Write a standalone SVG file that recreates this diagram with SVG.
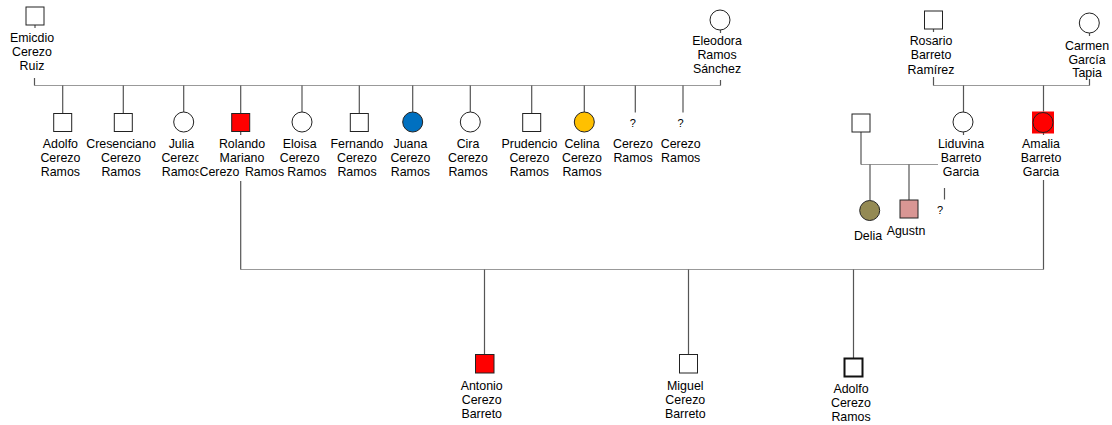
<svg xmlns="http://www.w3.org/2000/svg" width="1112" height="425" viewBox="0 0 1112 425">
<style>
text{font-family:"Liberation Sans",Arial,sans-serif;font-size:12.4px;fill:#000;text-anchor:middle}
.q{font-size:11px}
.h{stroke:#999;stroke-width:1;fill:none}
.d{stroke:#555;stroke-width:1.2;fill:none}
.m{fill:#fff;stroke:#222;stroke-width:1}
.f{fill:#fff;stroke:#222;stroke-width:1}
</style>
<rect width="1112" height="425" fill="#fff"/>
<g id="connectors">
<path class="h" d="M34.5 85.5H720.5M933.5 85.5H1089.5M861 164.5H938M240.5 269.5H1043.5"/>
<path class="d" d="M35 25V28M34.5 78V85.5M720.5 30V33M720.5 80V85.5M933.5 29V32M933.5 77V85.5M1089.5 33V36M1089.5 79V85.5"/>
<path class="d" d="M62.7 85.5V113.5M123.3 85.5V113.5M183.7 85.5V112M240.7 85.5V113.5M302 85.5V112M359.3 85.5V113.5M412.7 85.5V112M470.3 85.5V112M531.7 85.5V113.5M584.3 85.5V112M635.3 85.5V112.5M683 85.5V112.5"/>
<path class="d" d="M240.7 131.5V135M240.7 181V269.5M963.5 85.5V112M963.5 132V135M1043.5 85.5V111.5M1043.5 133V135M1043.5 180V269.5"/>
<path class="d" d="M861 132V164.5M870 164.5V200M909 164.5V200M944.5 188V199.5"/>
<path class="d" d="M484.5 269.5V354.5M688.5 269.5V354.5M853.5 269.5V358"/>
</g>
<g id="emicdio"><rect class="m" x="26" y="7" width="18" height="18"/><text x="32" y="41.5">Emicdio</text><text x="32" y="55.5">Cerezo</text><text x="32" y="69.5">Ruiz</text></g>
<g id="eleodora"><circle class="f" cx="720" cy="20" r="10"/><text x="717" y="45">Eleodora</text><text x="717" y="59">Ramos</text><text x="717" y="73">Sánchez</text></g>
<g id="rosario"><rect class="m" x="924.5" y="11" width="18" height="18"/><text x="931" y="45">Rosario</text><text x="931" y="59">Barreto</text><text x="931" y="73.5">Ramírez</text></g>
<g id="carmen"><circle class="f" cx="1089.3" cy="23" r="10"/><text x="1087" y="49.5">Carmen</text><text x="1087" y="63.5">García</text><text x="1087" y="77">Tapia</text></g>
<g id="adolfo1"><rect class="m" x="53.7" y="113.5" width="18" height="18"/><text x="60.4" y="148">Adolfo</text><text x="60.4" y="162">Cerezo</text><text x="60.4" y="176">Ramos</text></g>
<g id="cresenciano"><rect class="m" x="114.3" y="113.5" width="18" height="18"/><text x="121" y="148">Cresenciano</text><text x="121" y="162">Cerezo</text><text x="121" y="176">Ramos</text></g>
<g id="julia"><circle class="f" cx="183.7" cy="122" r="10"/><text x="181.4" y="148">Julia</text><text x="181.4" y="162">Cerezo</text><text x="181.4" y="176">Ramos</text></g>
<g id="eloisa"><circle class="f" cx="302" cy="122" r="10"/><text x="299.7" y="148">Eloisa</text><text x="299.7" y="162">Cerezo</text><text x="287.3" y="176" style="text-anchor:start">Ramos</text></g>
<g id="rolando"><rect class="m" x="231.7" y="113.5" width="18" height="18" style="fill:#f00"/><rect x="198.5" y="136" width="80.5" height="30" fill="#fff"/><rect x="198.5" y="166" width="87.5" height="14" fill="#fff"/><text x="242" y="148">Rolando</text><text x="242" y="162">Mariano</text><text x="199.5" y="176" style="text-anchor:start;word-spacing:2px">Cerezo Ramos</text></g>
<g id="fernando"><rect class="m" x="350.3" y="113.5" width="18" height="18"/><text x="357" y="148">Fernando</text><text x="357" y="162">Cerezo</text><text x="357" y="176">Ramos</text></g>
<g id="juana"><circle class="f" cx="412.7" cy="122" r="10" style="fill:#0070c0"/><text x="410.4" y="148">Juana</text><text x="410.4" y="162">Cerezo</text><text x="410.4" y="176">Ramos</text></g>
<g id="cira"><circle class="f" cx="470.3" cy="122" r="10"/><text x="468" y="148">Cira</text><text x="468" y="162">Cerezo</text><text x="468" y="176">Ramos</text></g>
<g id="prudencio"><rect class="m" x="522.7" y="113.5" width="18" height="18"/><text x="529.4" y="148">Prudencio</text><text x="529.4" y="162">Cerezo</text><text x="529.4" y="176">Ramos</text></g>
<g id="celina"><circle class="f" cx="584.3" cy="122" r="10" style="fill:#ffc000"/><text x="582" y="148">Celina</text><text x="582" y="162">Cerezo</text><text x="582" y="176">Ramos</text></g>
<g id="unknown1"><text class="q" x="632.8" y="127">?</text><text x="633" y="148">Cerezo</text><text x="633" y="162">Ramos</text></g>
<g id="unknown2"><text class="q" x="680.5" y="127">?</text><text x="680.7" y="148">Cerezo</text><text x="680.7" y="162">Ramos</text></g>
<g id="liduvina"><circle class="f" cx="963" cy="122" r="10"/><text x="961" y="148">Liduvina</text><text x="961" y="162">Barreto</text><text x="961" y="176">Garcia</text></g>
<g id="amalia"><rect x="1032" y="111.5" width="22" height="22" fill="#f00"/><circle cx="1043" cy="122.5" r="10" fill="#f00" stroke="#222" stroke-width="1"/><text x="1041" y="148">Amalia</text><text x="1041" y="162">Barreto</text><text x="1041" y="176">Garcia</text></g>
<g id="husband"><rect class="m" x="852" y="114" width="18" height="18"/></g>
<g id="delia"><circle class="f" cx="869.7" cy="210.5" r="10" style="fill:#948a54"/><text x="868" y="239.5">Delia</text></g>
<g id="agustn"><rect class="m" x="900" y="200" width="18" height="18" style="fill:#d99694"/><text x="906" y="234.5">Agustn</text></g>
<g id="unknown3"><text class="q" x="940" y="214">?</text></g>
<g id="antonio"><rect class="m" x="475.5" y="354.5" width="18.5" height="18.5" style="fill:#f00"/><text x="481.7" y="389.5">Antonio</text><text x="481.7" y="403.5">Cerezo</text><text x="481.7" y="417.5">Barreto</text></g>
<g id="miguel"><rect class="m" x="679.5" y="354.5" width="18" height="18.5"/><text x="685.3" y="389.5">Miguel</text><text x="685.3" y="403.5">Cerezo</text><text x="685.3" y="417.5">Barreto</text></g>
<g id="adolfo2"><rect x="844.5" y="358.5" width="18" height="18" fill="#fff" stroke="#111" stroke-width="2"/><text x="851" y="392.5">Adolfo</text><text x="851" y="406.5">Cerezo</text><text x="851" y="420.5">Ramos</text></g>
</svg>
